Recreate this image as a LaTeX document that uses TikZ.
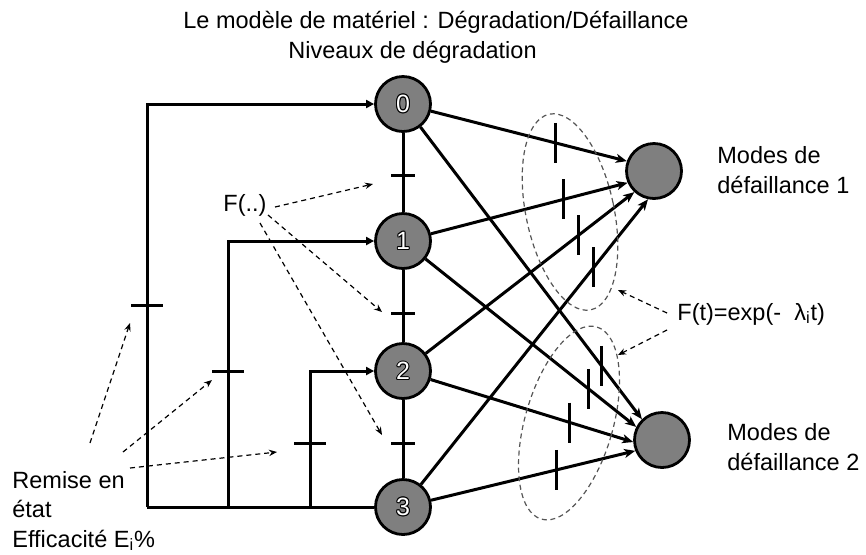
\documentclass[tikz,border=0pt]{standalone}
\usepackage{fontspec}
\setmainfont{Liberation Sans}
\usetikzlibrary{arrows.meta,calc}
\definecolor{nodegray}{HTML}{7F7F7F}
\definecolor{ellgray}{HTML}{555555}
\newcommand{\outdigit}[1]{\leavevmode
  \rlap{\kern-.5pt#1}\rlap{\kern.5pt#1}%
  \rlap{\raisebox{.5pt}{#1}}\rlap{\raisebox{-.5pt}{#1}}%
  \rlap{\kern-.35pt\raisebox{.35pt}{#1}}\rlap{\kern.35pt\raisebox{.35pt}{#1}}%
  \rlap{\kern-.35pt\raisebox{-.35pt}{#1}}\rlap{\kern.35pt\raisebox{-.35pt}{#1}}%
  \textcolor{white}{#1}}
\begin{document}
\begin{tikzpicture}[x=0.5pt,y=-0.5pt,
  every node/.style={font=\fontsize{11.75}{14.75}\selectfont},
  lvl/.style={circle, draw=black, line width=1.4pt, fill=nodegray, minimum size=27.5pt, inner sep=0pt, font=\fontsize{12.5}{14}\selectfont},
  fm/.style={circle, draw=black, line width=1.4pt, fill=nodegray, minimum size=27.5pt, inner sep=0pt},
  wire/.style={line width=1.5pt},
  arr/.style={wire, -{Triangle[length=4pt,width=4pt]}},
  farr/.style={wire, -{Stealth[length=5.5pt,width=4.5pt,inset=1.5pt]}},
  tk/.style={line width=1.5pt},
  note/.style={line width=0.6pt, dash pattern=on 2.5pt off 2pt, -{Stealth[length=4pt,width=3.2pt]}},
  grp/.style={ellgray, line width=0.6pt, dash pattern=on 2.5pt off 1.8pt},
  lbl/.style={inner sep=0pt, anchor=base west, align=left}]
\useasboundingbox (0,0) rectangle (866,554);

% degradation levels
\node[lvl] (n0) at (403,104) {\outdigit{0}};
\node[lvl] (n1) at (403,241) {\outdigit{1}};
\node[lvl] (n2) at (403,371) {\outdigit{2}};
\node[lvl] (n3) at (403,507) {\outdigit{3}};
% failure modes
\node[fm] (f1) at (654,171) {};
\node[fm] (f2) at (662,440) {};

% vertical chain with transitions
\draw[wire] (n0) -- (n1);
\draw[wire] (n1) -- (n2);
\draw[wire] (n2) -- (n3);
\draw[tk] (391,175) -- (415,175);
\draw[tk] (391,313) -- (415,313);
\draw[tk] (391,443) -- (415,443);

% repair loops
\coordinate (b0) at (147,507);
\coordinate (t0) at (147,104);
\coordinate (b1) at (228,507);
\coordinate (t1) at (228,241);
\coordinate (b2) at (310,507);
\coordinate (t2) at (310,371);
\draw[wire] (n3) -- (b0);
\draw[arr] (b0) -- (t0) -- (n0);
\draw[arr] (b1) -- (t1) -- (n1);
\draw[arr] (b2) -- (t2) -- (n2);
\draw[tk] (131,305) -- (163,305);
\draw[tk] (212,371) -- (244,371);
\draw[tk] (294,443) -- (326,443);

% failure transitions
\draw[farr] (n0) -- (f1.160);
\draw[farr] (n0) -- (f2.134);
\draw[farr] (n1) -- (f1.204);
\draw[farr] (n1) -- (f2.153);
\draw[farr] (n2) -- (f1.227);
\draw[farr] (n2) -- (f2.184);
\draw[farr] (n3) -- (f1.258);
\draw[farr] (n3) -- (f2.202);
\draw[tk] ($(n0)!0.682!(f1.160)$) ++(0,-20) -- ++(0,40);
\draw[tk] ($(n0)!0.831!(f2.134)$) ++(0,-20) -- ++(0,40);
\draw[tk] ($(n1)!0.714!(f1.204)$) ++(0,-20) -- ++(0,40);
\draw[tk] ($(n1)!0.795!(f2.153)$) ++(0,-20) -- ++(0,40);
\draw[tk] ($(n2)!0.760!(f1.227)$) ++(0,-20) -- ++(0,40);
\draw[tk] ($(n2)!0.725!(f2.184)$) ++(0,-20) -- ++(0,40);
\draw[tk] ($(n3)!0.779!(f1.258)$) ++(0,-20) -- ++(0,40);
\draw[tk] ($(n3)!0.661!(f2.202)$) ++(0,-20) -- ++(0,40);

% groups
\coordinate (e1) at (570,212);
\coordinate (e2) at (569,423);
\draw[grp, rotate around={12:(e1)}] (e1) ellipse [x radius=22pt, y radius=50pt];
\draw[grp, rotate around={-16:(e2)}] (e2) ellipse [x radius=22pt, y radius=50pt];

% labels (base anchor = baseline of the last line)
\node[lbl] (title) at (183,58) {Le modèle de matériel : Dégradation/Défaillance\\\hspace{52.5pt}Niveaux de dégradation};
\node[lbl] (fdots) at (223,211) {F(..)};
\node[lbl] (m1) at (717,193) {Modes de\\défaillance 1};
\node[lbl] (m2) at (727,470) {Modes de\\défaillance 2};
\node[lbl] (ft) at (677,320) {F(t)=exp(-\ \ λ\textsubscript{i}t)};
\node[lbl] (rem) at (12,547) {Remise en\\état\\Efficacité E\textsubscript{i}\%};

% annotation arrows
\coordinate (fa) at (275,207);
\coordinate (fb) at (268,215);
\coordinate (fc) at (260,223);
\coordinate (ta) at (373,184);
\coordinate (tb) at (382,312);
\coordinate (tc) at (382,435);
\draw[note] (fa) -- (ta);
\draw[note] (fb) -- (tb);
\draw[note] (fc) -- (tc);
\coordinate (ra) at (90,443);
\coordinate (rb) at (123,452);
\coordinate (rc) at (130,468);
\coordinate (sa) at (130,323);
\coordinate (sb) at (212,380);
\coordinate (sc) at (277,452);
\draw[note] (ra) -- (sa);
\draw[note] (rb) -- (sb);
\draw[note] (rc) -- (sc);
\coordinate (pa) at (667,313);
\coordinate (pb) at (667,330);
\coordinate (qa) at (618,290);
\coordinate (qb) at (618,355);
\draw[note] (pa) -- (qa);
\draw[note] (pb) -- (qb);
\end{tikzpicture}
\end{document}
